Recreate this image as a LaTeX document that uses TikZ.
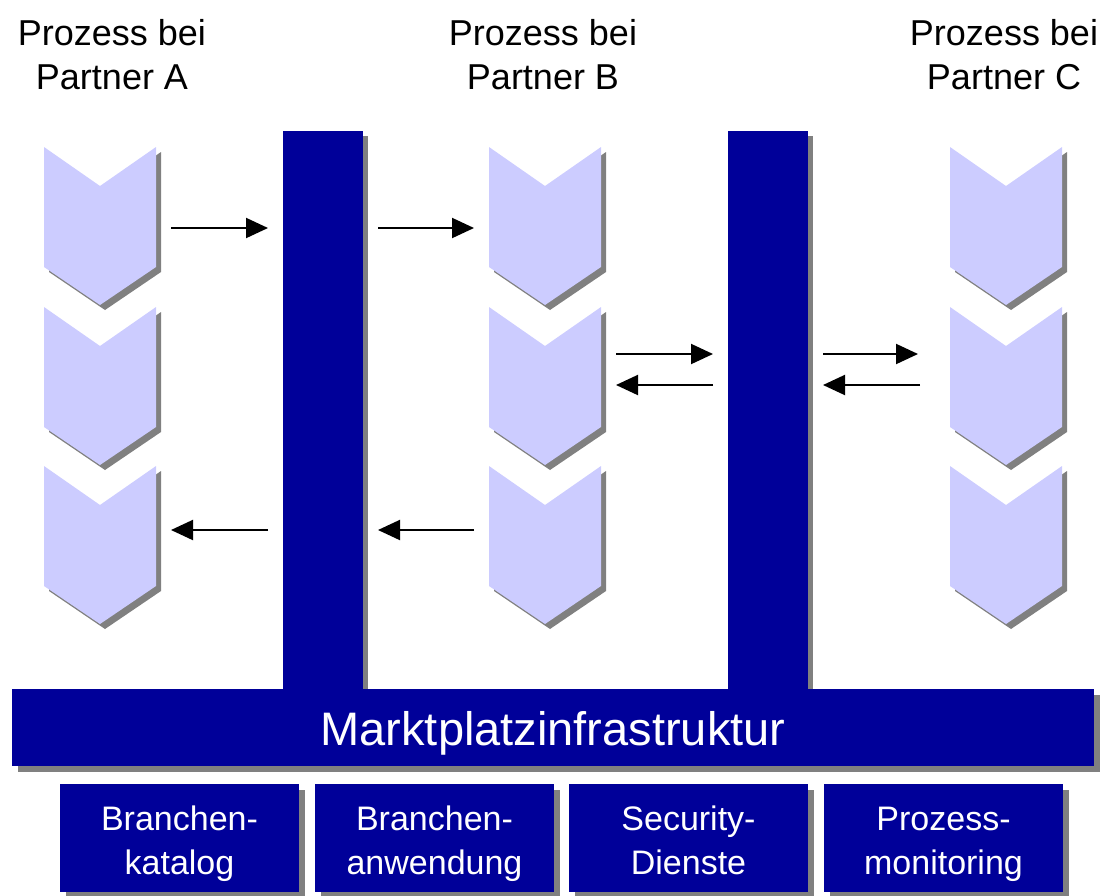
\documentclass[tikz,border=0pt]{standalone}
\usepackage{fontspec}
\setmainfont{Liberation Sans}
\usetikzlibrary{shadows,arrows.meta}
\definecolor{mpblue}{RGB}{0,0,153}
\definecolor{chevcol}{RGB}{204,204,255}
\definecolor{shadowcol}{RGB}{128,128,128}
\newcommand{\chevpath}[1]{(#1.north west) -- ([yshift=-39pt]#1.north) -- (#1.north east) -- ([yshift=38pt]#1.south east) -- (#1.south) -- ([yshift=38pt]#1.south west) -- cycle}
\tikzset{
  shd/.style={drop shadow={shadow xshift=#1, shadow yshift=-#1, fill=shadowcol, opacity=1}},
  shd/.default=6pt,
  slot/.style={rectangle, minimum width=112pt, minimum height=158pt, inner sep=0pt, outer sep=0pt},
  bar/.style={rectangle, fill=mpblue, inner sep=0pt, outer sep=0pt, text=white, align=center},
  arr/.style={line width=2pt, -{Triangle[length=22pt,width=20pt]}, shorten >=15pt, shorten <=15pt},
}
\begin{document}
\begin{tikzpicture}[x=1pt,y=-1pt]
    \useasboundingbox (0,0) rectangle (1110,895);
    %%% process headings
    \foreach \p/\x in {A/112, B/543, C/1004}
    \node[align=center, font=\fontsize{36}{44}\selectfont] (lab\p) at (\x,55) {Prozess bei\\Partner \p};
    %%% chevrons
    \foreach \p/\x in {A/100, B/545, C/1006}
    \foreach \r/\y in {1/226, 2/386, 3/545} {
      \node[slot] (\p\r) at (\x,\y) {};
      \fill[chevcol, shd=5pt] \chevpath{\p\r};
    }
    %%% vertical bars
    \node[bar, shd=5pt, minimum width=80pt, minimum height=559pt] (barL) at (323,410.5) {};
    \node[bar, shd=5pt, minimum width=80pt, minimum height=559pt] (barR) at (768,410.5) {};
    \node[bar, shd, minimum width=1082pt, minimum height=77pt, text height=35pt, text depth=0pt,
      font=\fontsize{47}{56}\selectfont] (infra) at (553,727.5) {Marktplatzinfrastruktur};
    %%% services
    \foreach \n/\x/\txt in {kat/179.5/{Branchen-\\katalog}, anw/434.5/{Branchen-\\anwendung}, sec/688.5/{Security-\\Dienste}, mon/943.5/{Prozess-\\monitoring}}
    \node[bar, shd, minimum width=239pt, minimum height=108pt, text height=80pt, text depth=8pt,
      font=\fontsize{34}{44}\selectfont] (\n) at (\x,838) {\txt};
    %%% messages
    \draw[arr] (A1.east |- 0,228) -- (barL.west |- 0,228);
    \draw[arr] (barL.east |- 0,228) -- (B1.west |- 0,228);
    \draw[arr] (B2.east |- 0,354) -- (barR.west |- 0,354);
    \draw[arr] (barR.west |- 0,385) -- (B2.east |- 0,385);
    \draw[arr, shorten >=32pt] (barR.east |- 0,354) -- (C2.west |- 0,354);
    \draw[arr, shorten <=30pt] (C2.west |- 0,385) -- (barR.east |- 0,385);
    \draw[arr] (barL.west |- 0,530) -- (A3.east |- 0,530);
    \draw[arr] (B3.west |- 0,530) -- (barL.east |- 0,530);
  \end{tikzpicture}
\end{document}
